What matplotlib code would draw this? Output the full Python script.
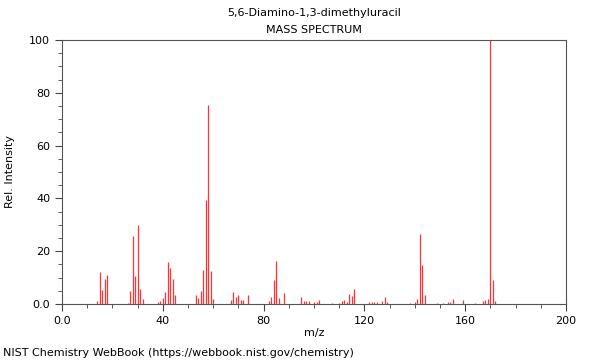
import matplotlib.pyplot as plt
from matplotlib.ticker import MultipleLocator, FuncFormatter

# Peaks
mz = [14, 15, 16, 17, 18, 26, 27, 28, 29, 30, 31, 32,
      38, 39, 40, 41, 42, 43, 44, 45, 53, 54, 55, 56, 57, 58, 59, 60,
      67, 68, 69, 70, 71, 72, 74, 82, 83, 84, 85, 86, 88,
      95, 96, 97, 98, 100, 101, 102, 107, 110, 111, 112, 113, 114, 115, 116,
      122, 123, 124, 125, 127, 128, 129, 138, 140, 141, 142, 143, 144,
      149, 151, 153, 154, 155, 159, 164, 167, 168, 169, 170, 171, 172]
intensity = [1.0, 12.0, 5.3, 9.5, 11.0, 0.5, 5.0, 25.8, 10.6, 29.8, 5.6, 1.8,
             0.7, 1.0, 2.1, 4.5, 16.0, 13.5, 9.5, 3.3, 3.5, 2.3, 5.0, 13.0, 39.4, 75.4, 12.5, 1.8,
             1.5, 4.4, 2.5, 3.4, 1.4, 1.5, 3.4, 1.1, 2.8, 9.0, 16.3, 2.1, 4.0,
             2.5, 1.0, 1.0, 1.1, 0.8, 0.8, 1.5, 0.5, 0.5, 1.1, 1.5, 0.9, 3.7, 3.2, 5.6,
             0.8, 0.8, 0.8, 0.7, 1.3, 2.8, 0.8, 0.5, 0.9, 1.9, 26.7, 14.7, 3.4,
             0.5, 0.5, 0.6, 0.7, 1.9, 1.5, 0.5, 1.1, 1.5, 1.9, 100.0, 9.0, 1.1]

plt.rcParams['font.family'] = 'DejaVu Sans'
plt.rcParams['font.size'] = 8

fig = plt.figure(figsize=(6, 3.6), dpi=100)
ax = fig.add_axes([62 / 600, 1 - 304 / 360, 504 / 600, 264 / 360])

ax.vlines(mz, 0, intensity, color='#ff3333', linewidth=0.9)

ax.set_xlim(0, 200)
ax.set_ylim(0, 100)
ax.xaxis.set_major_locator(MultipleLocator(40))
ax.xaxis.set_minor_locator(MultipleLocator(10))
ax.yaxis.set_major_locator(MultipleLocator(20))
ax.yaxis.set_minor_locator(MultipleLocator(5))
fmt = FuncFormatter(lambda v, p: '0.0' if v == 0 else '%d' % v)
ax.xaxis.set_major_formatter(fmt)
ax.yaxis.set_major_formatter(fmt)
ax.tick_params(which='major', length=5, color='#444444', labelsize=8)
ax.tick_params(which='minor', length=3, color='#444444')
for s in ax.spines.values():
    s.set_color('#555555')

ax.set_xlabel('m/z', fontsize=8)
ax.set_ylabel('Rel. Intensity', fontsize=8)
ax.xaxis.set_label_coords(0.5, -(333 - 304) / 264, transform=ax.transAxes)
ax.yaxis.set_label_coords(-(62 - 10) / 504, 0.5, transform=ax.transAxes)
ax.xaxis.label.set_va('center')
ax.yaxis.label.set_va('center')

fig.text(314 / 600, 1 - 13 / 360, '5,6-Diamino-1,3-dimethyluracil', ha='center', va='center', fontsize=8)
fig.text(314 / 600, 1 - 30 / 360, 'MASS SPECTRUM', ha='center', va='center', fontsize=8)
fig.text(3 / 600, 1 - 353 / 360, 'NIST Chemistry WebBook (https://webbook.nist.gov/chemistry)',
         ha='left', va='center', fontsize=8)

fig.savefig('out.png', dpi=100)
